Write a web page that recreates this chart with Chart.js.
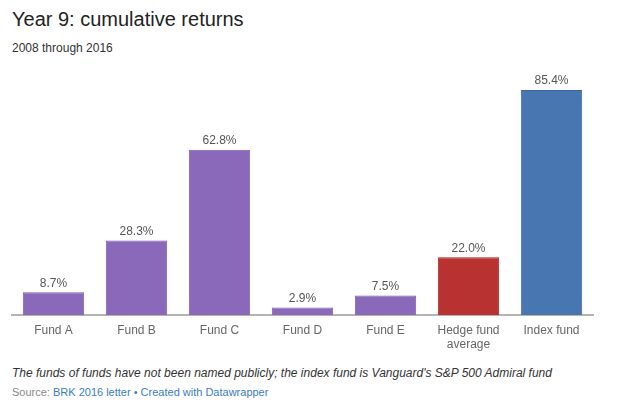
<!DOCTYPE html>
<html>
<head>
<meta charset="utf-8">
<script src="https://cdn.jsdelivr.net/npm/chart.js@4"></script>
<style>
  body { margin: 0; width: 640px; height: 413px; background: #fff; font-family: "Liberation Sans", Arial, sans-serif; position: relative; overflow: hidden; }
  .title { position: absolute; left: 12px; top: 8px; font-size: 20px; color: #222; }
  .sub { position: absolute; left: 12px; top: 41px; font-size: 12px; color: #333; }
  .note { position: absolute; left: 12px; top: 366px; font-size: 12px; font-style: italic; color: #333; }
  .src { position: absolute; left: 12px; top: 386px; font-size: 11px; color: #888; }
  .src span { color: #3b7cc4; }
  #wrap { position: absolute; left: 0; top: 60px; width: 640px; height: 292px; }
</style>
</head>
<body>
<div class="title">Year 9: cumulative returns</div>
<div class="sub">2008 through 2016</div>
<div id="wrap"><canvas id="chart"></canvas></div>
<div class="note">The funds of funds have not been named publicly; the index fund is Vanguard's S&amp;P 500 Admiral fund</div>
<div class="src">Source: <span>BRK 2016 letter</span> <span>•</span> <span>Created with Datawrapper</span></div>
<script>
const categories = ['Fund A', 'Fund B', 'Fund C', 'Fund D', 'Fund E', ['Hedge fund', 'average'], 'Index fund'];
const returns = [8.7, 28.3, 62.8, 2.9, 7.5, 22.0, 85.4];
const barColors = ['#8a69ba', '#8a69ba', '#8a69ba', '#8a69ba', '#8a69ba', '#b83232', '#4876b1'];
const borderColors = ['#7a59ab', '#7a59ab', '#7a59ab', '#7a59ab', '#7a59ab', '#a81c1c', '#3a66a2'];

// value labels above each bar
const valueLabels = {
    id: 'valueLabels',
    afterDatasetsDraw(chart) {
        const ctx = chart.ctx;
        const meta = chart.getDatasetMeta(0);
        ctx.save();
        ctx.font = '12px "Liberation Sans", Arial, sans-serif';
        ctx.fillStyle = '#555';
        ctx.textAlign = 'center';
        ctx.textBaseline = 'bottom';
        meta.data.forEach((bar, i) => {
            ctx.fillText(returns[i].toFixed(1) + '%', bar.x, bar.y - 3);
        });
        ctx.restore();
    }
};

new Chart(document.getElementById('chart'), {
    type: 'bar',
    data: {
        labels: categories,
        datasets: [{
            data: returns,
            backgroundColor: barColors,
            borderColor: borderColors,
            borderWidth: 1,
            categoryPercentage: 1,
            barPercentage: 0.74
        }]
    },
    options: {
        responsive: true,
        maintainAspectRatio: false,
        animation: false,
        layout: { padding: { left: 12, right: 47, top: 18, bottom: 0 } },
        plugins: {
            legend: { display: false },
            tooltip: { enabled: false }
        },
        scales: {
            y: {
                display: false,
                min: 0,
                max: 90
            },
            x: {
                grid: { display: false },
                border: { color: '#b4b4b4', width: 2 },
                ticks: {
                    color: '#666',
                    font: { size: 12, family: '"Liberation Sans", Arial, sans-serif' },
                    padding: 0,
                    maxRotation: 0
                }
            }
        }
    },
    plugins: [valueLabels]
});
</script>
</body>
</html>
